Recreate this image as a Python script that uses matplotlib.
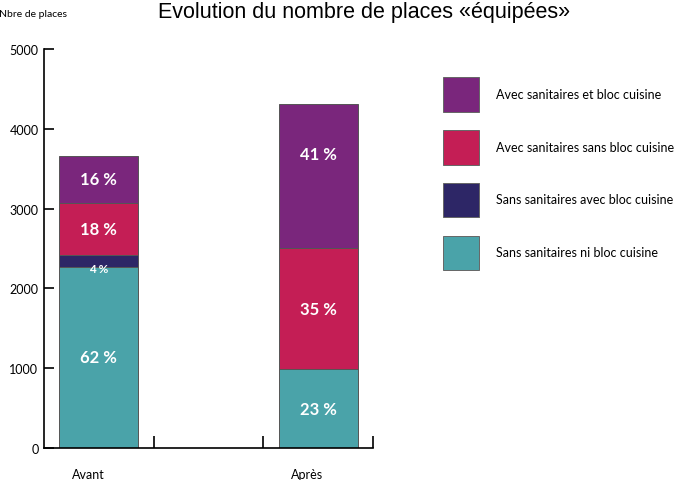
import matplotlib.pyplot as plt
from matplotlib.patches import Patch

# data
categories = ['Avant', '', 'Après']
series_names = ['Sans sanitaires ni bloc cuisine',
                'Sans sanitaires avec bloc cuisine',
                'Avec sanitaires sans bloc cuisine',
                'Avec sanitaires et bloc cuisine']
teal_vals = [2270, 0, 990]
navy_vals = [145, 0, 0]
red_vals = [655, 0, 1515]
purple_vals = [590, 0, 1805]
pct_labels = [['62 %', '4 %', '18 %', '16 %'],
              [None, None, None, None],
              ['23 %', '', '35 %', '41 %']]
colors = ['#4aa3a9', '#2d2666', '#c41e55', '#7a267c']

plt.rcParams['font.family'] = ['Lato', 'DejaVu Sans']

fig = plt.figure(figsize=(6.77, 4.81), dpi=100)
ax = fig.add_axes([0.065, 0.0665, 0.486, 0.8295])

series = [teal_vals, navy_vals, red_vals, purple_vals]
x = list(range(len(categories)))
bottoms = [0] * len(categories)
for vals, col in zip(series, colors):
    ax.bar(x, vals, width=0.72, bottom=bottoms, color=col,
           edgecolor='#555555', linewidth=0.7)
    bottoms = [b + v for b, v in zip(bottoms, vals)]

# percentage labels
for i in x:
    base = 0
    for k, vals in enumerate(series):
        lab = pct_labels[i][k]
        v = vals[i]
        if lab:
            y = base + v / 2
            size = 12
            if lab == '4 %':
                y = base - 20
                size = 8.5
            if lab == '41 %':
                y += 280
            ax.text(i, y, lab, ha='center', va='center', color='white',
                    fontsize=size, fontweight='bold')
        base += v

ax.set_xlim(-0.5, 2.5)
ax.set_ylim(0, 5000)
ax.set_yticks(range(0, 5001, 1000))
ax.set_xticks([0.5, 1.5, 2.5])
ax.set_xticklabels([])
ax.tick_params(axis='y', direction='in', length=7, width=1.2, labelsize=9, pad=4)
ax.tick_params(axis='x', direction='in', length=9, width=1.2)
for s in ['top', 'right']:
    ax.spines[s].set_visible(False)
for s in ['left', 'bottom']:
    ax.spines[s].set_linewidth(1.2)

for i, c in enumerate(categories):
    if c:
        ax.text(i - 0.1, -0.065, c, transform=ax.get_xaxis_transform(),
                ha='center', va='center', fontsize=9)

fig.text(0.537, 0.975, 'Evolution du nombre de places «équipées»',
         ha='center', va='center', fontsize=15.5, family='Liberation Sans')
fig.text(0.099, 0.969, 'Nbre de places', ha='right', va='center', fontsize=7.5)

handles = [Patch(facecolor=colors[k], edgecolor='#666666', linewidth=0.7,
                 label=series_names[k]) for k in [3, 2, 1, 0]]
fig.legend(handles=handles, loc='upper left', bbox_to_anchor=(0.654, 0.838),
           frameon=False, fontsize=9, handlelength=2.88, handleheight=3.9,
           handletextpad=1.4, labelspacing=1.45, borderpad=0, borderaxespad=0)

fig.savefig('out.png', dpi=100)
